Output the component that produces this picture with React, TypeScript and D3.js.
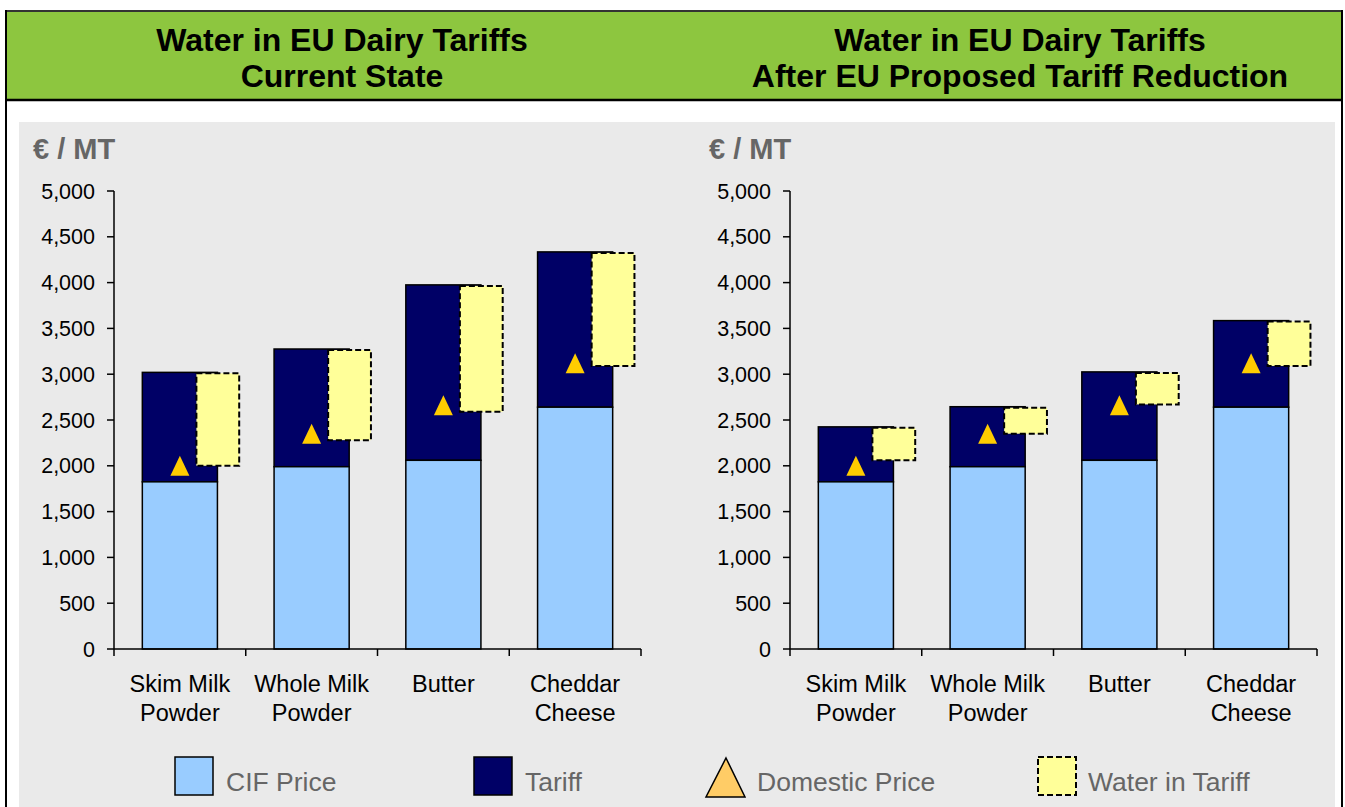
import React from 'react';
import * as d3 from 'd3';

const categories = ['Skim Milk Powder', 'Whole Milk Powder', 'Butter', 'Cheddar Cheese'];
const categoryLines = [['Skim Milk', 'Powder'], ['Whole Milk', 'Powder'], ['Butter'], ['Cheddar', 'Cheese']];
const cifPrice = [1825, 1990, 2060, 2640];
const tariffCurrent = [1195, 1285, 1915, 1695];
const tariffProposed = [600, 655, 965, 945];
const domesticPrice = [2000, 2350, 2660, 3120];
const waterLowCurrent = [2000, 2280, 2590, 3090];
const waterLowProposed = [2060, 2350, 2670, 3090];
const yTicks = [0, 500, 1000, 1500, 2000, 2500, 3000, 3500, 4000, 4500, 5000];
const titleCurrent = ['Water in EU Dairy Tariffs', 'Current State'];
const titleProposed = ['Water in EU Dairy Tariffs', 'After EU Proposed Tariff Reduction'];
const legendLabels = ['CIF Price', 'Tariff', 'Domestic Price', 'Water in Tariff'];

const FONT = 'Arial, "Liberation Sans", sans-serif';
const CIF_COLOR = '#99ccff';
const TARIFF_COLOR = '#000066';
const WATER_COLOR = '#ffff99';
const MARKER_COLOR = '#ffcc00';

const yScale = d3.scaleLinear().domain([0, 5000]).range([649, 191]);
const fmt = d3.format(',');

const Panel: React.FC<{ x0: number; x1: number; tariff: number[]; waterLow: number[] }> = ({ x0, x1, tariff, waterLow }) => {
  const xScale = d3.scaleBand<string>()
    .domain(categories)
    .range([x0, x1])
    .paddingInner(0.43)
    .paddingOuter(0.215);
  const bw = xScale.bandwidth();
  const step = xScale.step();

  return (
    <g>
      {/* y axis label */}
      <text x={x0 - 81} y={159} fontFamily={FONT} fontWeight="bold" fontSize={29} fill="#666666">€ / MT</text>

      {/* bars */}
      {categories.map((c, i) => {
        const bx = xScale(c)!;
        const total = cifPrice[i] + tariff[i];
        return (
          <g key={c}>
            <rect x={bx} y={yScale(total)} width={bw} height={yScale(cifPrice[i]) - yScale(total)}
              fill={TARIFF_COLOR} stroke="#000" strokeWidth={1.5} />
            <rect x={bx} y={yScale(cifPrice[i])} width={bw} height={yScale(0) - yScale(cifPrice[i])}
              fill={CIF_COLOR} stroke="#000" strokeWidth={1.5} />
            <rect x={bx + bw * 0.72} y={yScale(total) + 1} width={bw * 0.57}
              height={yScale(waterLow[i]) - yScale(total) - 1}
              fill={WATER_COLOR} stroke="#000" strokeWidth={2} strokeDasharray="6,3" />
            <path d="M0,-10 L9.5,10 L-9.5,10 Z" fill={MARKER_COLOR}
              transform={`translate(${bx + bw / 2},${yScale(domesticPrice[i])})`} />
          </g>
        );
      })}

      {/* y axis */}
      <line x1={x0} x2={x0} y1={yScale(5000)} y2={yScale(0)} stroke="#000" strokeWidth={1.5} />
      {yTicks.map(t => (
        <g key={t}>
          <line x1={x0 - 7} x2={x0} y1={yScale(t)} y2={yScale(t)} stroke="#000" strokeWidth={1.5} />
          <text x={x0 - 19} y={yScale(t) + 7.5} textAnchor="end" fontFamily={FONT} fontSize={21.5} fill="#000">{fmt(t)}</text>
        </g>
      ))}

      {/* x axis */}
      <line x1={x0} x2={x1} y1={yScale(0)} y2={yScale(0)} stroke="#000" strokeWidth={1.5} />
      {d3.range(categories.length + 1).map(i => (
        <line key={i} x1={x0 + i * step} x2={x0 + i * step} y1={yScale(0)} y2={yScale(0) + 7} stroke="#000" strokeWidth={1.5} />
      ))}
      {categories.map((c, i) => (
        <text key={c} textAnchor="middle" fontFamily={FONT} fontSize={23.5} fill="#000">
          {categoryLines[i].map((ln, j) => (
            <tspan key={j} x={xScale(c)! + bw / 2} y={692 + j * 29}>{ln}</tspan>
          ))}
        </text>
      ))}
    </g>
  );
};

const App: React.FC = () => {
  return (
    <svg width={1345} height={807} style={{ position: 'absolute', left: 0, top: 0 }}>
      <rect x={0} y={0} width={1345} height={807} fill="#fff" />
      {/* header */}
      <rect x={5} y={10} width={1338} height={90} fill="#8dc63f" />
      <line x1={5} x2={1343} y1={11} y2={11} stroke="#333" strokeWidth={2} />
      <line x1={5} x2={1343} y1={100} y2={100} stroke="#000" strokeWidth={2.5} />
      <line x1={6} x2={6} y1={10} y2={807} stroke="#000" strokeWidth={2} />
      <line x1={1342} x2={1342} y1={10} y2={807} stroke="#000" strokeWidth={2} />
      {[{ lines: titleCurrent, cx: 342 }, { lines: titleProposed, cx: 1020 }].map((t, k) => (
        <text key={k} textAnchor="middle" fontFamily={FONT} fontWeight="bold" fontSize={32} fill="#000">
          {t.lines.map((ln, j) => (
            <tspan key={j} x={t.cx} y={51 + j * 36}>{ln}</tspan>
          ))}
        </text>
      ))}

      {/* gray plot panel */}
      <rect x={19} y={122} width={1316} height={690} fill="#eaeaea" />

      <Panel x0={114} x1={641} tariff={tariffCurrent} waterLow={waterLowCurrent} />
      <Panel x0={790} x1={1317} tariff={tariffProposed} waterLow={waterLowProposed} />

      {/* legend */}
      <rect x={175} y={757} width={38} height={38} fill={CIF_COLOR} stroke="#000" strokeWidth={1.5} />
      <text x={226} y={791} fontFamily={FONT} fontSize={26.5} fill="#666666">{legendLabels[0]}</text>
      <rect x={474} y={757} width={38} height={38} fill={TARIFF_COLOR} stroke="#000" strokeWidth={1.5} />
      <text x={525} y={791} fontFamily={FONT} fontSize={26.5} fill="#666666">{legendLabels[1]}</text>
      <path d="M726,758 L745,797 L706,797 Z" fill="#ffcc66" stroke="#000" strokeWidth={1.5} />
      <text x={757} y={791} fontFamily={FONT} fontSize={26.5} fill="#666666">{legendLabels[2]}</text>
      <rect x={1038} y={757} width={38} height={38} fill={WATER_COLOR} stroke="#000" strokeWidth={2} strokeDasharray="6,3" />
      <text x={1088} y={791} fontFamily={FONT} fontSize={26.5} fill="#666666">{legendLabels[3]}</text>
    </svg>
  );
};

export default App;
